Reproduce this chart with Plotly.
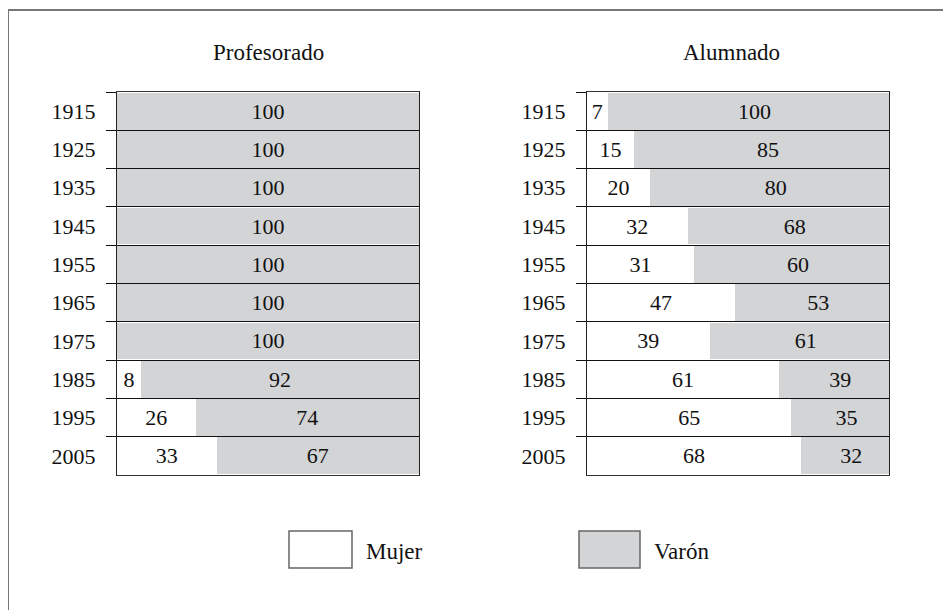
import plotly.graph_objects as go
from plotly.subplots import make_subplots

years = ["1915", "1925", "1935", "1945", "1955", "1965", "1975", "1985", "1995", "2005"]
prof_mujer = [0, 0, 0, 0, 0, 0, 0, 8, 26, 33]
prof_varon = [100, 100, 100, 100, 100, 100, 100, 92, 74, 67]
alum_mujer = [7, 15, 20, 32, 31, 47, 39, 61, 65, 68]
alum_varon = [100, 85, 80, 68, 60, 53, 61, 39, 35, 32]

panel_titles = ["Profesorado", "Alumnado"]
legend_labels = ["Mujer", "Varón"]

FONT = "Liberation Serif"
GRAY = "#d3d4d6"
W, H = 951, 610
OFF = 8  # page body margin

fig = make_subplots(rows=1, cols=2, horizontal_spacing=0.1)


def lbl(vals):
    return [str(v) if v else "" for v in vals]


for col, (m, v) in enumerate([(prof_mujer, prof_varon), (alum_mujer, alum_varon)], start=1):
    fig.add_trace(go.Bar(y=years, x=m, orientation="h", name=legend_labels[0],
                         marker=dict(color="white", line=dict(width=0)),
                         text=lbl(m), textposition="inside", insidetextanchor="middle",
                         textfont=dict(family=FONT, size=22, color="#111"),
                         showlegend=False, hoverinfo="skip"), row=1, col=col)
    fig.add_trace(go.Bar(y=years, x=v, orientation="h", name=legend_labels[1],
                         marker=dict(color=GRAY, line=dict(width=0)),
                         text=lbl(v), textposition="inside", insidetextanchor="middle",
                         textfont=dict(family=FONT, size=22, color="#111"),
                         showlegend=False, hoverinfo="skip"), row=1, col=col)

px = lambda p: (p - OFF) / W
py = lambda p: 1 - (p - OFF) / H

fig.update_layout(
    width=W, height=H, margin=dict(l=0, r=0, t=0, b=0),
    paper_bgcolor="white", plot_bgcolor="white",
    barmode="stack", barnorm="percent", bargap=0.04,
    font=dict(family=FONT, size=22, color="#111"),
    xaxis=dict(domain=[px(117), px(419)], range=[0, 100]),
    xaxis2=dict(domain=[px(587), px(889)], range=[0, 96]),
)
for ax in ["xaxis", "xaxis2"]:
    fig.layout[ax].update(showgrid=False, zeroline=False, showticklabels=False, ticks="",
                          showline=True, mirror=True, linecolor="#333", linewidth=1, fixedrange=True)
for ax in ["yaxis", "yaxis2"]:
    fig.layout[ax].update(domain=[py(475), py(92)], type="category", autorange="reversed",
                          tickson="boundaries", ticks="outside", ticklen=10, tickcolor="#111", tickwidth=1,
                          showgrid=True, gridcolor="#111", gridwidth=1,
                          showline=True, mirror=True, linecolor="#222", linewidth=1,
                          tickfont=dict(family=FONT, size=22, color="#111"),
                          ticklabelstandoff=16, zeroline=False, fixedrange=True)

# panel titles
for title, cx in zip(panel_titles, [268, 731]):
    fig.add_annotation(text=title, x=px(cx), y=py(53), xanchor="center", yanchor="middle",
                       xref="paper", yref="paper", showarrow=False,
                       font=dict(family=FONT, size=23, color="#111"))

# legend
for label, fill, (bx0, bx1), tx in zip(legend_labels, ["white", GRAY], [(289, 352), (579, 640)], [364, 652]):
    fig.add_shape(type="rect", xref="paper", yref="paper", x0=px(bx0), x1=px(bx1), y0=py(568), y1=py(531),
                  fillcolor=fill, line=dict(color="#666", width=1.5))
    fig.add_annotation(text=label, x=px(tx), y=py(551), xref="paper", yref="paper",
                       xanchor="left", yanchor="middle", showarrow=False,
                       font=dict(family=FONT, size=23, color="#111"))

# outer frame
fig.add_shape(type="line", xref="paper", yref="paper", x0=px(8), x1=1.0, y0=py(10), y1=py(10),
              line=dict(color="#777", width=2))
fig.add_shape(type="line", xref="paper", yref="paper", x0=px(8), x1=px(8), y0=py(10), y1=0,
              line=dict(color="#777", width=2))

fig.write_html("out.html")
